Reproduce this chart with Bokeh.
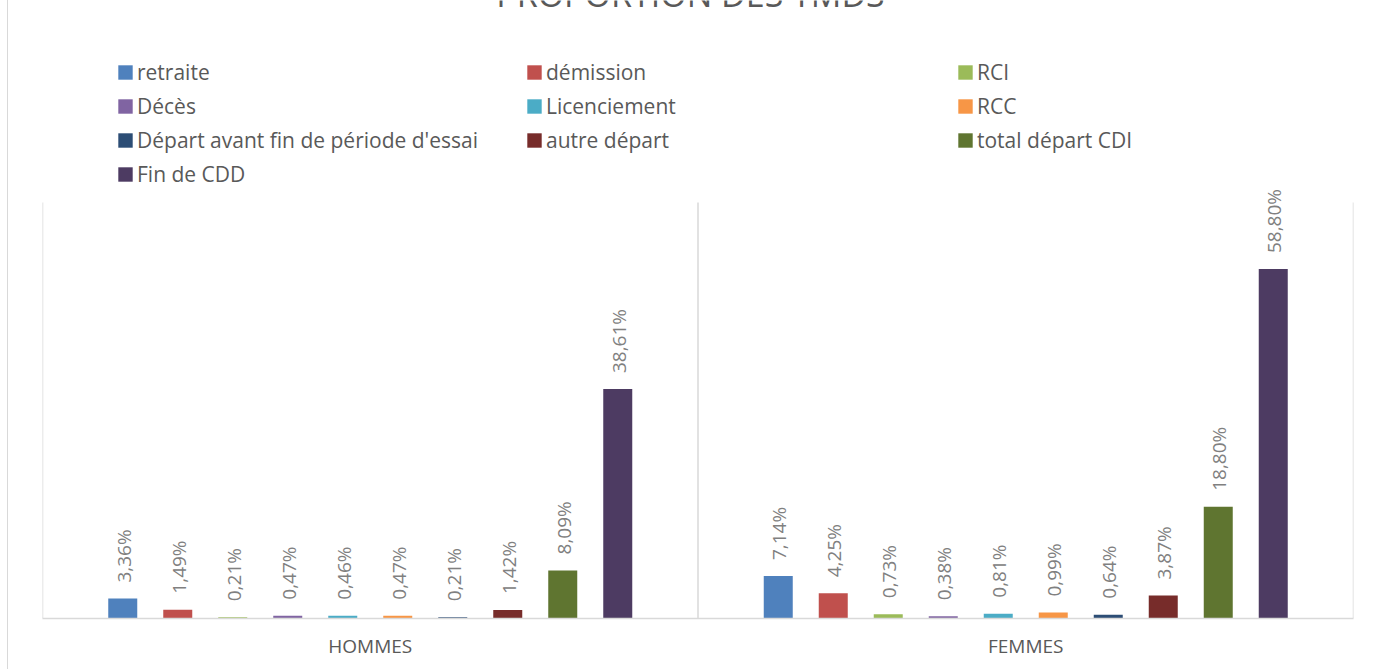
from math import pi
from bokeh.plotting import figure
from bokeh.models import ColumnDataSource, FactorRange, Range1d, Legend, LegendItem, Label
from bokeh.transform import dodge
from bokeh.core.properties import value
from bokeh.embed import file_html
from bokeh.resources import INLINE

# ---------------- data ----------------
groups = ["HOMMES", "FEMMES"]
series = ["retraite", "démission", "RCI", "Décès", "Licenciement", "RCC",
          "Départ avant fin de période d'essai", "autre départ",
          "total départ CDI", "Fin de CDD"]
hommes = [3.36, 1.49, 0.21, 0.47, 0.46, 0.47, 0.21, 1.42, 8.09, 38.61]
femmes = [7.14, 4.25, 0.73, 0.38, 0.81, 0.99, 0.64, 3.87, 18.80, 58.80]
colors = ["#4F81BD", "#C0504D", "#9BBB59", "#8064A2", "#4BACC6",
          "#F79646", "#2C4D75", "#772C2A", "#5F7530", "#4D3B62"]
title_text = "PROPORTION DES TMDS"
y_max = 70  # percent
legend_columns = [[0, 3, 6, 9], [1, 4, 7], [2, 5, 8]]

def fmt(v):
    return f"{v:.2f}".replace(".", ",") + "%"

# ---------------- layout (canvas starts 8px from the left edge) ----------------
W, H = 1368, 669
frame_left, frame_right = 34, 1345
frame_top, frame_bottom = 0, 618
axis_top = 202
y_top = y_max * (frame_bottom - frame_top) / (frame_bottom - axis_top)
FONT = value("Open Sans")

p = figure(width=W, height=H,
           x_range=FactorRange(factors=groups, range_padding=0),
           y_range=Range1d(0, y_top),
           y_axis_location=None,
           output_backend="svg", toolbar_location=None,
           min_border_left=frame_left, min_border_right=W - frame_right,
           min_border_top=frame_top, min_border_bottom=H - frame_bottom)
p.styles = {"margin-left": "8px", "box-shadow": "-1px 0 0 #d9d9d9"}
p.outline_line_color = None
p.xgrid.visible = False
p.ygrid.visible = False
p.background_fill_color = "white"
p.border_fill_color = "white"

ax = p.xaxis[0]
ax.axis_line_color = "#d9d9d9"
ax.axis_line_width = 1.5
ax.major_tick_line_color = None
ax.minor_tick_line_color = None
ax.major_tick_out = 0
ax.major_label_standoff = 14
ax.major_label_text_font = "Open Sans"
ax.major_label_text_font_size = "19px"
ax.major_label_text_color = "#595959"

# category separators
sep = ColumnDataSource(dict(x=list(range(len(groups) + 1))))
p.segment(x0="x", y0=0, x1="x", y1=y_max, source=sep,
          line_color="#d9d9d9", line_width=1.5)

n = len(series)
step = 55 / ((frame_right - frame_left) / len(groups))
bar_w = 29 / ((frame_right - frame_left) / len(groups))

renderers = []
for i, name in enumerate(series):
    src = ColumnDataSource(dict(g=groups, v=[hommes[i], femmes[i]],
                                t=[fmt(hommes[i]), fmt(femmes[i])]))
    off = (i - (n - 1) / 2) * step
    r = p.vbar(x=dodge("g", off, range=p.x_range), top="v", width=bar_w,
               source=src, fill_color=colors[i], line_color=None)
    renderers.append(r)
    p.text(x=dodge("g", off, range=p.x_range), y="v", text="t", source=src,
           angle=pi / 2, text_align="left", text_baseline="middle",
           y_offset=-16, x_offset=1,
           text_font=FONT, text_font_size="19px", text_color="#808080")

# legends (three columns)
gw = 18
gh = 18
item_h = 27
spacing = 6
col_sq_left = [110, 519, 950]
row1_center = 75
for c, idxs in enumerate(legend_columns):
    nrows = len(idxs)
    height = nrows * item_h + (nrows - 1) * spacing
    top = row1_center - item_h / 2
    bottom = top + height
    leg = Legend(items=[LegendItem(label=series[k], renderers=[renderers[k]]) for k in idxs],
                 location=(int(round(col_sq_left[c] - frame_left - 0.1 * gw)),
                           int(round(frame_bottom - bottom))),
                 orientation="vertical", glyph_width=gw, glyph_height=gh,
                 label_height=item_h, label_standoff=3, spacing=spacing,
                 padding=0, margin=0, border_line_color=None,
                 background_fill_alpha=0,
                 label_text_font="Open Sans", label_text_font_size="21px",
                 label_text_color="#595959")
    p.add_layout(leg)

title = Label(x=682 - frame_left, y=frame_bottom + 7, x_units="screen", y_units="screen",
              text=title_text, text_align="center", text_baseline="alphabetic",
              text_font="Open Sans", text_font_size="34px", text_color="#595959")
p.add_layout(title)

open("out.html", "w").write(file_html(p, INLINE))
